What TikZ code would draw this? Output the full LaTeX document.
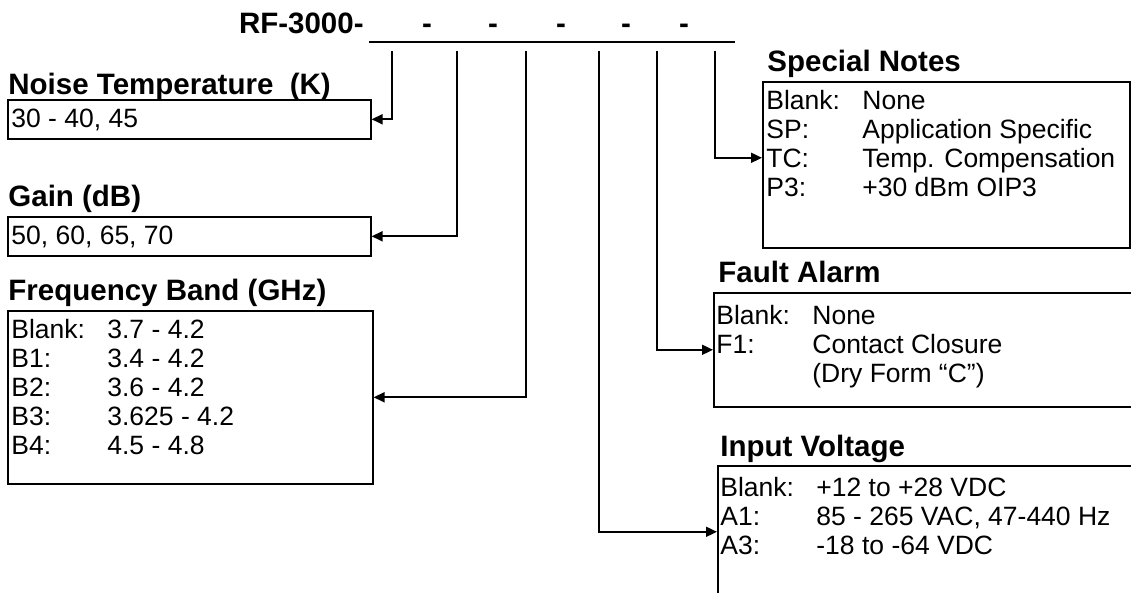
\documentclass[tikz,border=0pt]{standalone}
\usepackage{fontspec}
\setmainfont{Liberation Sans}
\usetikzlibrary{arrows.meta}
\newcommand\bodyfont{\fontsize{13.25}{14.5}\selectfont}
\newcommand\headfont{\fontsize{14.75}{17}\selectfont\bfseries}
\tikzset{
  box/.style={draw, line width=0.8pt, anchor=north west, inner sep=0pt},
  head/.style={anchor=base west, inner sep=0pt, font=\headfont},
  opts/.style={anchor=base west, inner sep=0pt, font=\bodyfont},
  arr/.style={line width=0.9pt, -{Triangle[length=5.5pt,width=5pt]}}
}
\begin{document}
\begin{tikzpicture}[x=0.5pt,y=-0.5pt]
  \useasboundingbox (0,0) rectangle (1131,593);
  \clip (0,0) rectangle (1131,593);

  \node[head, anchor=base east] (pn) at (364,34) {RF-3000-};
  \draw[line width=1pt] (369,42) -- (735,42);
  \foreach \x/\n in {427/1,493/2,561/3,626/4,684/5}
    \node[head, anchor=base] (d\n) at (\x,34) {-};
  \foreach \x/\n in {392/1,457/2,526/3,599/4,657/5,715/6}
    \coordinate (t\n) at (\x,51);

  \node[head] (noiseh) at (8,95) {Noise Temperature\ \ (K)};
  \node[box, minimum width=181.5pt, minimum height=19.5pt] (noise) at (7,99) {};
  \node[opts] (noisetxt) at (11,128) {30 - 40, 45};

  \node[head] (gainh) at (8,207) {Gain (dB)};
  \node[box, minimum width=181.5pt, minimum height=19.5pt] (gain) at (7,216) {};
  \node[opts] (gaintxt) at (11,245) {50, 60, 65, 70};

  \node[head] (freqh) at (8,301) {Frequency Band (GHz)};
  \node[box, minimum width=182.5pt, minimum height=86.5pt] (freq) at (7,310) {};
  \node[opts] (freqtxt) at (11,338.5) {\begin{tabular}[t]{@{}p{48pt}@{}l@{}}
    Blank: & 3.7 - 4.2\\
    B1: & 3.4 - 4.2\\
    B2: & 3.6 - 4.2\\
    B3: & 3.625 - 4.2\\
    B4: & 4.5 - 4.8
  \end{tabular}};

  \node[head] (noteh) at (767,72) {Special Notes};
  \node[box, minimum width=183.5pt, minimum height=83pt] (note) at (762,81) {};
  \node[opts] (notetxt) at (766,109.5) {\begin{tabular}[t]{@{}p{48pt}@{}l@{}}
    Blank: & None\\
    SP: & Application Specific\\
    TC: & Temp. Compensation\\
    P3: & +30 dBm OIP3
  \end{tabular}};

  \node[head] (faulth) at (718,283) {Fault Alarm};
  \node[box, minimum width=230pt, minimum height=57pt] (fault) at (713,292) {};
  \node[opts] (faulttxt) at (716,324.5) {\begin{tabular}[t]{@{}p{48pt}@{}l@{}}
    Blank: & None\\
    F1: & Contact Closure\\
     & (Dry Form “C”)
  \end{tabular}};

  \node[head] (inputh) at (720,457) {Input Voltage};
  \node[box, minimum width=230pt, minimum height=66pt] (input) at (717,465) {};
  \node[opts] (inputtxt) at (720,496.5) {\begin{tabular}[t]{@{}p{48pt}@{}l@{}}
    Blank: & +12 to +28 VDC\\
    A1: & 85 - 265 VAC, 47-440 Hz\\
    A3: & -18 to -64 VDC
  \end{tabular}};

  \draw[arr] (t1) |- (noise.east);
  \draw[arr] (t2) |- (gain.east);
  \draw[arr] (t3) |- (freq.east);
  \draw[arr] (t4) |- (input.west);
  \draw[arr] (t5) |- (fault.west);
  \draw[arr] (t6) |- ([yshift=3.5pt]note.west);
\end{tikzpicture}
\end{document}
